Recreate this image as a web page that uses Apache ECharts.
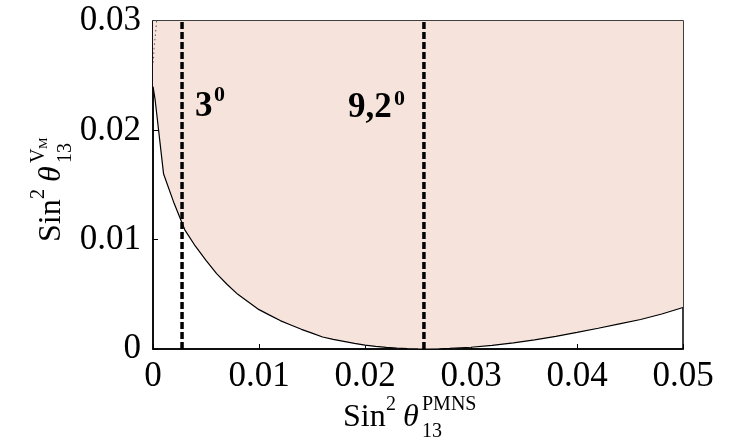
<!DOCTYPE html>
<html>
<head>
<meta charset="utf-8">
<script src="https://cdn.jsdelivr.net/npm/echarts@6/dist/echarts.min.js"></script>
<style>html,body{margin:0;padding:0;background:#fff}#c{width:734px;height:444px}</style>
</head>
<body>
<div id="c"></div>
<script>
// Data
const curveX = [0, 0.0002, 0.001, 0.002, 0.003, 0.004, 0.005, 0.006, 0.007, 0.008, 0.009, 0.010, 0.011, 0.012, 0.013, 0.014, 0.015, 0.016, 0.017, 0.018, 0.019, 0.020, 0.021, 0.022, 0.023, 0.024, 0.025, 0.026, 0.027, 0.028, 0.030, 0.032, 0.034, 0.036, 0.038, 0.040, 0.042, 0.044, 0.046, 0.048, 0.050];
const curveY = [0.0240, 0.0228, 0.0160, 0.0133, 0.0109, 0.0094, 0.0081, 0.0069, 0.0059, 0.0050, 0.0043, 0.0036, 0.0031, 0.0026, 0.0022, 0.0018, 0.00145, 0.0011, 0.00088, 0.0007, 0.00051, 0.00035, 0.00024, 0.00014, 0.00008, 0.00003, 0.00001, 0.0, 0.00002, 0.00005, 0.00016, 0.00033, 0.00056, 0.00083, 0.00115, 0.00152, 0.0019, 0.0023, 0.0027, 0.0032, 0.0038];
const dottedX = [0.00035, 0.0002, 0.0001, 0.00003];
const dottedY = [0.0300, 0.0285, 0.0275, 0.0262];
const vLineX = [0.00274, 0.02556];      // sin^2(3°), sin^2(9.2°)
const vLineY = [0, 0.03];
const xTickLabels = ['0', '0.01', '0.02', '0.03', '0.04', '0.05'];
const yTickLabels = ['0', '0.01', '0.02', '0.03'];

const FONT = '"Liberation Serif", "Times New Roman", serif';
const chart = echarts.init(document.getElementById('c'), null, {renderer: 'canvas'});

const curveData = curveX.map((x, i) => [x, curveY[i]]);
const dottedData = dottedX.map((x, i) => [x, dottedY[i]]);

const vSeries = vLineX.map(x => ({
  type: 'line', data: vLineY.map(y => [x, y]), symbol: 'none', z: 5,
  lineStyle: {color: '#000', width: 3.5, type: [7, 3]}, silent: true
}));

function ts(x, y, text, size, weight, style) {
  return {type: 'text', x: x, y: y, z: 100, style: {text: text, fontFamily: FONT, fontSize: size, fontWeight: weight || 'normal', fontStyle: style || 'normal', fill: '#000', verticalAlign: 'middle', align: 'left'}};
}

chart.setOption({
  animation: false,
  grid: {left: 153, right: 51, top: 21, bottom: 95, show: true, borderColor: '#000', borderWidth: 1.5, backgroundColor: 'transparent'},
  xAxis: {
    type: 'value', min: 0, max: 0.05, interval: 0.01,
    axisLine: {show: true, onZero: false, lineStyle: {color: '#000', width: 1.5}},
    axisTick: {show: true, inside: true, length: 5, lineStyle: {color: '#000'}},
    splitLine: {show: false},
    axisLabel: {color: '#000', fontFamily: FONT, fontSize: 35, margin: 10,
      formatter: v => xTickLabels[Math.round(v / 0.01)]}
  },
  yAxis: {
    type: 'value', min: 0, max: 0.03, interval: 0.01,
    axisLine: {show: true, onZero: false, lineStyle: {color: '#000', width: 1.5}},
    axisTick: {show: true, inside: true, length: 5, lineStyle: {color: '#000'}},
    splitLine: {show: false},
    axisLabel: {color: '#000', fontFamily: FONT, fontSize: 35, margin: 12,
      formatter: v => yTickLabels[Math.round(v / 0.01)]}
  },
  series: [
    {type: 'line', data: curveData, symbol: 'none', z: 3,
     lineStyle: {color: '#000', width: 1.2},
     areaStyle: {color: '#f6e4dc', opacity: 1, origin: 'end'}},
    {type: 'line', data: dottedData, symbol: 'none', z: 4,
     lineStyle: {color: '#555', width: 1, type: [1.5, 3]}}
  ].concat(vSeries),
  graphic: [
    // annotations
    ts(195, 107, '3', 35, 'bold'),
    ts(214, 95, '0', 22, 'bold'),
    ts(348, 108, '9,2', 35, 'bold'),
    ts(394, 99, '0', 22, 'bold'),
    // x axis title
    ts(343, 418, 'Sin', 32),
    ts(386, 405, '2', 20),
    ts(403, 418, 'θ', 32, 'normal', 'italic'),
    ts(422, 405, 'PMNS', 20),
    ts(422, 432, '13', 20),
    // y axis title (rotated)
    {type: 'group', x: 52, y: 179, rotation: Math.PI / 2, children: [
      ts(-63, 0, 'Sin', 32),
      ts(-20, -13, '2', 20),
      ts(-3, 0, 'θ', 32, 'normal', 'italic'),
      ts(16, -13, 'V', 20),
      ts(30, -8, 'M', 13),
      ts(16, 14, '13', 20)
    ]}
  ]
});
</script>
</body>
</html>
